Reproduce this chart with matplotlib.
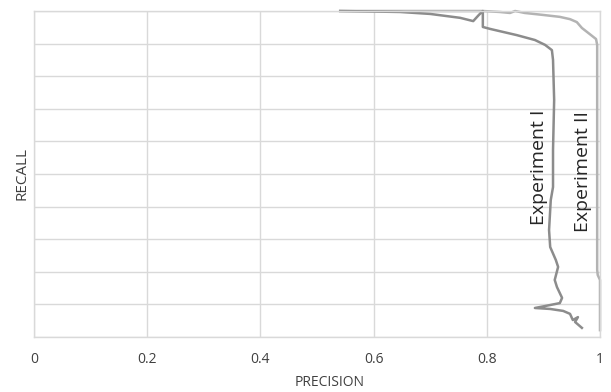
import matplotlib
matplotlib.use("Agg")
import matplotlib.pyplot as plt
import numpy as np

exp1_precision = [0.541, 0.647, 0.700, 0.753, 0.776, 0.786, 0.793, 0.793, 0.806, 0.853, 0.885, 0.903, 0.915,
                  0.917, 0.919, 0.917, 0.917, 0.913, 0.910, 0.912, 0.922, 0.926, 0.920, 0.924, 0.933, 0.929,
                  0.903, 0.885, 0.912, 0.935, 0.947, 0.952, 0.961, 0.956, 0.968]
exp1_recall = [1.0, 0.997, 0.991, 0.979, 0.969, 0.988, 1.0, 0.951, 0.945, 0.926, 0.911, 0.896, 0.880,
               0.850, 0.727, 0.574, 0.460, 0.420, 0.328, 0.276, 0.236, 0.215, 0.175, 0.153, 0.120, 0.104,
               0.095, 0.089, 0.086, 0.080, 0.071, 0.052, 0.061, 0.046, 0.028]

exp2_precision = [0.541, 0.793, 0.823, 0.841, 0.850, 0.867, 0.899, 0.929, 0.947, 0.959, 0.968, 0.982, 0.993,
                  0.995, 0.995, 0.995, 0.995, 0.996, 1.0, 1.0]
exp2_recall = [1.0, 1.0, 0.997, 0.994, 1.0, 0.994, 0.988, 0.982, 0.975, 0.966, 0.948, 0.929, 0.914,
               0.896, 0.727, 0.420, 0.206, 0.190, 0.175, 0.021]

x_ticks = [0, 0.2, 0.4, 0.6, 0.8, 1]
x_tick_labels = ["0", "0.2", "0.4", "0.6", "0.8", "1"]

plt.rcParams['font.family'] = ['Open Sans', 'DejaVu Sans']

fig = plt.figure(figsize=(6.11, 3.92), dpi=100)
ax = fig.add_axes([34/611, 55/392, 566/611, 326/392])
ax.set_xlim(0, 1)
ax.set_ylim(0, 1)
ax.set_xticks(x_ticks)
ax.set_xticklabels(x_tick_labels, fontsize=10, color='#404040')
ax.set_yticks(np.linspace(0, 1, 11))
ax.set_yticklabels([])
ax.tick_params(length=0, pad=11)
ax.grid(True, color='#d9d9d9', linewidth=1)
for s in ax.spines.values():
    s.set_color('#d9d9d9')
    s.set_linewidth(1)
ax.set_axisbelow(True)

ax.plot(exp2_precision, exp2_recall, color='#b3b3b3', linewidth=1.8, clip_on=False)
ax.plot(exp1_precision, exp1_recall, color='#8c8c8c', linewidth=1.8, clip_on=False)

ax.text(0.892, 0.521, "Experiment I", rotation=90, fontsize=14, color='#262626', ha='center', va='center')
ax.text(0.970, 0.509, "Experiment II", rotation=90, fontsize=14, color='#262626', ha='center', va='center')

fig.text(330/611, 1 - 382/392, "PRECISION", fontsize=10, color='#404040', ha='center', va='center')
fig.text(22/611, 1 - 174/392, "RECALL", fontsize=11, color='#404040', ha='center', va='center', rotation=90)

fig.savefig("out.png", dpi=100)
